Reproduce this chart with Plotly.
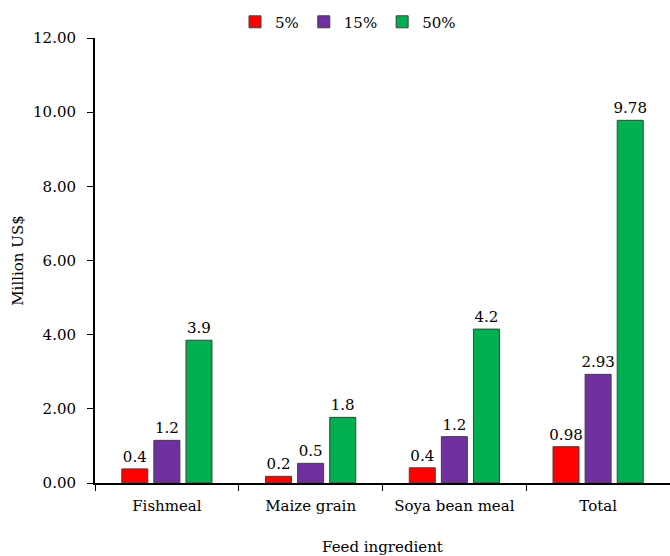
import plotly.graph_objects as go

categories = ["Fishmeal", "Maize grain", "Soya bean meal", "Total"]
series_names = ["5%", "15%", "50%"]
values_5 = [0.38, 0.18, 0.41, 0.98]
values_15 = [1.15, 0.53, 1.25, 2.93]
values_50 = [3.85, 1.77, 4.15, 9.78]
labels_5 = ["0.4", "0.2", "0.4", "0.98"]
labels_15 = ["1.2", "0.5", "1.2", "2.93"]
labels_50 = ["3.9", "1.8", "4.2", "9.78"]
colors = ["#FF0000", "#7030A0", "#00B050"]
y_ticks = [0, 2, 4, 6, 8, 10, 12]

FONT = "DejaVu Serif, Liberation Serif, serif"
FS = 15
fig = go.Figure()
for name, vals, labs, col in zip(series_names, [values_5, values_15, values_50],
                                 [labels_5, labels_15, labels_50], colors):
    fig.add_trace(go.Bar(
        x=categories, y=vals, name=name, text=labs,
        textposition="outside", constraintext="none", cliponaxis=False,
        textfont=dict(family=FONT, size=FS, color="black"),
        marker=dict(color=col, line=dict(color="#404040", width=1)),
    ))

fig.update_layout(
    width=670, height=556,
    margin=dict(l=95, r=0, t=38, b=73, autoexpand=False),
    paper_bgcolor="white", plot_bgcolor="white",
    barmode="group", bargap=0.33, bargroupgap=0.19,
    font=dict(family=FONT, size=FS, color="black"),
    showlegend=True,
    legend=dict(orientation="h", x=0.44, xref="paper", xanchor="center",
                y=0.99, yref="container", yanchor="top",
                font=dict(family=FONT, size=FS), itemwidth=30,
                traceorder="normal"),
    xaxis=dict(
        showline=True, linecolor="black", linewidth=2,
        ticks="outside", tickson="boundaries", ticklen=6, tickcolor="black",
        tickwidth=1, showgrid=False, ticklabelstandoff=8,
        title=dict(text="Feed ingredient", standoff=28,
                   font=dict(family=FONT, size=FS)),
        tickfont=dict(family=FONT, size=FS),
    ),
    yaxis=dict(
        range=[0, 12], tickvals=y_ticks, tickformat=".2f",
        showline=True, linecolor="black", linewidth=2,
        ticks="outside", ticklen=6, tickcolor="black", tickwidth=1,
        showgrid=False, zeroline=False, ticklabelstandoff=8,
        title=dict(text="Million US$", standoff=6,
                   font=dict(family=FONT, size=FS)),
        tickfont=dict(family=FONT, size=FS),
    ),
)

fig.write_html("out.html")
